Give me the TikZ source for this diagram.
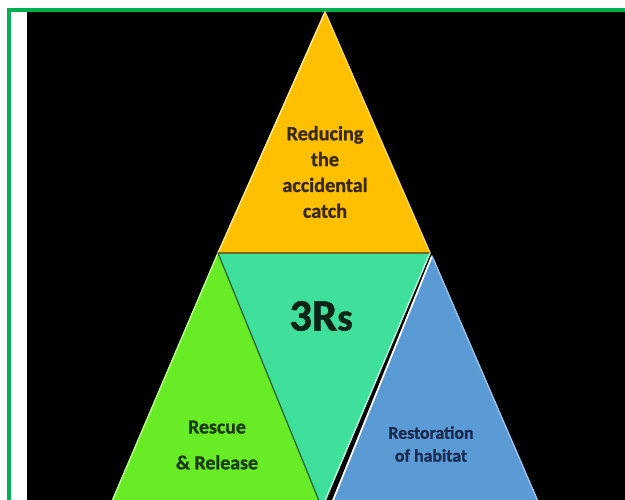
\documentclass[tikz,border=0pt]{standalone}
\usepackage{fontspec}
\setmainfont{Carlito}
\newfontfamily\heavy{Carlito Bold}[FakeBold=1.2]
\usepackage{tikz}
\pgfdeclarelayer{bg}
\pgfsetlayers{bg,main}
\definecolor{framegreen}{HTML}{00B050}
\definecolor{catchfill}{HTML}{FFC000}
\definecolor{coref}{HTML}{3FE09C}
\definecolor{rescuefill}{HTML}{68EC26}
\definecolor{habitatfill}{HTML}{5B9BD5}
\definecolor{catchtext}{HTML}{3A2A0C}
\definecolor{rescuetext}{HTML}{1C3A10}
\definecolor{habitattext}{HTML}{1B2B50}
\definecolor{coretext}{HTML}{0A2416}
\tikzset{
    label text/.style={align=center},
    rim/.style={line width=0.3mm, line cap=round},
}

\begin{document}
\begin{tikzpicture}[x=0.2mm, y=-0.2mm]
    \useasboundingbox (0,0) rectangle (625,500);

    \coordinate (apex) at (325,12);
    \coordinate (lft) at (218,253);
    \coordinate (rgt) at (430,253);
    \coordinate (mid) at (322,508);
    \coordinate (bl) at (104,520);
    \coordinate (gr) at (327,520);
    \coordinate (bapex) at (432,256);
    \coordinate (bbl) at (325,520);
    \coordinate (br) at (546,520);

    \begin{pgfonlayer}{bg}
        \fill[white] (0,0) rectangle (625,500);
        \fill[black] (27,12) rectangle (625,500);
        \draw[framegreen, line width=0.8mm] (9,500) -- (9,10) -- (625,10);
    \end{pgfonlayer}

    \begin{scope}
        \clip (27,12) rectangle (625,500);
        \fill[rescuefill] (lft) -- (bl) -- (gr) -- cycle;
        \fill[habitatfill] (bapex) -- (br) -- (bbl) -- cycle;
        \fill[coref] (lft) -- (rgt) -- (mid) -- cycle;
        \fill[catchfill] (apex) -- (lft) -- (rgt) -- cycle;
        \draw[rim, color={rgb,255:red,255;green,232;blue,140}] (apex) -- (lft);
        \draw[rim, color={rgb,255:red,255;green,214;blue,80}] (apex) -- (rgt);
        \draw[rim, color={rgb,255:red,120;green,104;blue,30}] (lft) -- (rgt);
        \draw[rim, color={rgb,255:red,185;green,246;blue,140}] (lft) -- (bl);
        \draw[line width=0.25mm, color={rgb,255:red,40;green,100;blue,56}] (lft) -- (mid);
        \draw[rim, color={rgb,255:red,180;green,245;blue,218}] (rgt) -- (mid);
        \draw[line width=0.35mm, white] (bapex) -- (bbl);
        \draw[rim, color={rgb,255:red,150;green,192;blue,234}] (bapex) -- (br);
    \end{scope}

    \node (catch) [label text, text=catchtext, font=\fontsize{11.5}{14.7}\selectfont\heavy] at (325,172) {Reducing\\the\\accidental\\catch};
    \node (core) [label text, text=coretext, font=\fontsize{25.5}{28}\selectfont\heavy] at (321,316) {3R{\fontsize{22}{22}\selectfont s}};
    \node (rescue) [label text, text=rescuetext, font=\fontsize{11.3}{20.4}\selectfont\heavy] at (217,445) {Rescue\\\& Release};
    \node (habitat) [label text, text=habitattext, font=\fontsize{10.1}{13}\selectfont\heavy] at (431,444) {Restoration\\of habitat};
\end{tikzpicture}
\end{document}
